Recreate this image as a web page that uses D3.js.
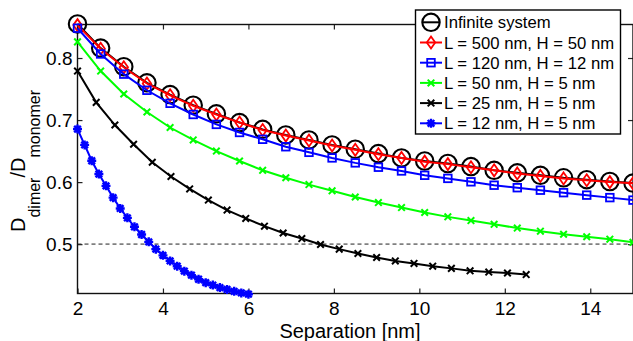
<!DOCTYPE html>
<html>
<head>
<meta charset="utf-8">
<script src="https://cdn.jsdelivr.net/npm/d3@7"></script>
<style>
  body { margin: 0; background: #fff; }
  svg { display: block; font-family: 'Liberation Sans', Arial, sans-serif; }
</style>
</head>
<body>
<svg id="chart"></svg>
<script>
// separations [nm]
const sepLong = [2, 2.542, 3.083, 3.625, 4.167, 4.708, 5.25, 5.792, 6.333, 6.875, 7.417, 7.958,
  8.5, 9.042, 9.583, 10.125, 10.667, 11.208, 11.75, 12.292, 12.833, 13.375, 13.917, 14.458, 15];
const sepMid = [2, 2.4375, 2.875, 3.3125, 3.75, 4.1875, 4.625, 5.0625, 5.5, 5.9375, 6.375, 6.8125,
  7.25, 7.6875, 8.125, 8.5625, 9, 9.4375, 9.875, 10.3125, 10.75, 11.1875, 11.625, 12.0625, 12.5];
const sepShort = [2, 2.167, 2.333, 2.5, 2.667, 2.833, 3, 3.167, 3.333, 3.5, 3.667, 3.833,
  4, 4.167, 4.333, 4.5, 4.667, 4.833, 5, 5.167, 5.333, 5.5, 5.667, 5.833, 6];

// D_dimer / D_monomer
const infinite = [0.855, 0.816, 0.786, 0.760, 0.741, 0.724, 0.710, 0.696, 0.685, 0.676, 0.668, 0.660,
  0.653, 0.646, 0.639, 0.634, 0.630, 0.625, 0.619, 0.615, 0.611, 0.607, 0.604, 0.601, 0.5985];
const l500 = [0.853, 0.815, 0.785, 0.759, 0.740, 0.723, 0.709, 0.696, 0.684, 0.675, 0.667, 0.659,
  0.652, 0.645, 0.639, 0.633, 0.629, 0.624, 0.619, 0.614, 0.610, 0.606, 0.603, 0.600, 0.598];
const l120 = [0.848, 0.8065, 0.774, 0.748, 0.727, 0.709, 0.693, 0.680, 0.669, 0.657, 0.648, 0.639,
  0.631, 0.624, 0.618, 0.611, 0.606, 0.6005, 0.595, 0.591, 0.587, 0.583, 0.579, 0.575, 0.571];
const l50 = [0.826, 0.779, 0.742, 0.713, 0.688, 0.668, 0.650, 0.634, 0.619, 0.607, 0.596, 0.586,
  0.576, 0.567, 0.559, 0.551, 0.544, 0.538, 0.532, 0.526, 0.521, 0.516, 0.512, 0.508, 0.503];
const l25 = [0.779, 0.7285, 0.692, 0.661, 0.632, 0.609, 0.589, 0.571, 0.555, 0.5415, 0.529, 0.518,
  0.509, 0.4995, 0.492, 0.485, 0.4785, 0.473, 0.469, 0.4645, 0.461, 0.457, 0.455, 0.4535, 0.451];
const l12 = [0.6855, 0.660, 0.6344, 0.613, 0.594, 0.575, 0.5576, 0.5424, 0.528, 0.5156, 0.5037, 0.492,
  0.482, 0.473, 0.4645, 0.4565, 0.450, 0.4435, 0.438, 0.434, 0.430, 0.427, 0.424, 0.4215, 0.4194];

const xTicks = [2, 4, 6, 8, 10, 12, 14];
const yTicks = [0.5, 0.6, 0.7, 0.8];
const threshold = 0.5;

const series = [
  { name: 'Infinite system', x: sepLong, y: infinite, color: '#000', marker: 'circle' },
  { name: 'L = 500 nm, H = 50 nm', x: sepLong, y: l500, color: '#ff0000', marker: 'diamond' },
  { name: 'L = 120 nm, H = 12 nm', x: sepLong, y: l120, color: '#0000ff', marker: 'square' },
  { name: 'L = 50 nm, H = 5 nm', x: sepLong, y: l50, color: '#00ff00', marker: 'x' },
  { name: 'L = 25 nm, H = 5 nm', x: sepMid, y: l25, color: '#000', marker: 'x' },
  { name: 'L = 12 nm, H = 5 nm', x: sepShort, y: l12, color: '#0000ff', marker: 'star' },
];

const svgWidth = 633;
const svgHeight = 341;
const margin = { top: 24.5, right: 0, bottom: 47.5, left: 77.5 };
const width = svgWidth - margin.left - margin.right;
const height = svgHeight - margin.top - margin.bottom;

const svg = d3.select('#chart')
  .attr('width', svgWidth)
  .attr('height', svgHeight);

const g = svg.append('g').attr('transform', `translate(${margin.left},${margin.top})`);

const x = d3.scaleLinear().domain([2, 15]).range([0, width]);
const y = d3.scaleLinear().domain([0.4205, 0.854]).range([height, 0]);

// dashed 0.5 reference
g.append('line')
  .attr('x1', 0).attr('x2', width)
  .attr('y1', y(threshold)).attr('y2', y(threshold))
  .attr('stroke', '#808080')
  .attr('stroke-width', 1.6)
  .attr('stroke-dasharray', '4,3');

// axes (MATLAB style, inward ticks)
const axisStyle = sel => {
  sel.selectAll('.domain').remove();
  sel.selectAll('.tick line').attr('stroke', '#222').attr('stroke-width', 1.2);
  sel.selectAll('text').attr('font-size', 19).attr('fill', '#000')
    .attr('font-family', "'Liberation Sans', Arial, sans-serif");
};

g.append('g')
  .attr('transform', `translate(0,${height})`)
  .call(d3.axisBottom(x).tickValues(xTicks).tickSizeInner(-5).tickSizeOuter(0).tickPadding(8).tickFormat(d3.format('d')))
  .call(axisStyle);

g.append('g')
  .call(d3.axisTop(x).tickValues(xTicks).tickSizeInner(-5).tickSizeOuter(0).tickFormat(''))
  .call(axisStyle);

g.append('g')
  .call(d3.axisLeft(y).tickValues(yTicks).tickSizeInner(-5).tickSizeOuter(0).tickPadding(5).tickFormat(d3.format('.1f')))
  .call(axisStyle);

g.append('g')
  .attr('transform', `translate(${width},0)`)
  .call(d3.axisRight(y).tickValues(yTicks).tickSizeInner(-5).tickSizeOuter(0).tickFormat(''))
  .call(axisStyle);

g.append('rect')
  .attr('width', width).attr('height', height)
  .attr('fill', 'none')
  .attr('stroke', '#111')
  .attr('stroke-width', 1.4);

// marker drawing
function drawMarker(sel, type, color) {
  if (type === 'circle') {
    sel.append('circle').attr('r', 8.7).attr('fill', 'none').attr('stroke', color).attr('stroke-width', 2.1);
  } else if (type === 'diamond') {
    sel.append('path').attr('d', 'M0,-6L4.2,0L0,6L-4.2,0Z')
      .attr('fill', 'none').attr('stroke', color).attr('stroke-width', 1.8);
  } else if (type === 'square') {
    sel.append('rect').attr('x', -3.8).attr('y', -3.8).attr('width', 7.6).attr('height', 7.6)
      .attr('fill', 'none').attr('stroke', color).attr('stroke-width', 1.8);
  } else if (type === 'x') {
    sel.append('path').attr('d', 'M-3.3,-3.3L3.3,3.3M-3.3,3.3L3.3,-3.3')
      .attr('stroke', color).attr('stroke-width', 2);
  } else if (type === 'star') {
    sel.append('path').attr('d', 'M-4.5,0L4.5,0M0,-4.5L0,4.5M-3.3,-3.3L3.3,3.3M-3.3,3.3L3.3,-3.3')
      .attr('stroke', color).attr('stroke-width', 2.4);
  }
}

const line = d3.line().x(d => x(d[0])).y(d => y(d[1]));

series.forEach(s => {
  const pts = s.x.map((v, i) => [v, s.y[i]]);
  const sg = g.append('g');
  sg.append('path')
    .datum(pts)
    .attr('d', line)
    .attr('fill', 'none')
    .attr('stroke', s.color)
    .attr('stroke-width', 2);
  sg.selectAll('g.m')
    .data(pts)
    .enter()
    .append('g')
    .attr('class', 'm')
    .attr('transform', d => `translate(${x(d[0])},${y(d[1])})`)
    .each(function () { drawMarker(d3.select(this), s.marker, s.color); });
});

// axis labels
svg.append('text')
  .attr('x', 350)
  .attr('y', 338)
  .attr('text-anchor', 'middle')
  .attr('font-size', 20)
  .text('Separation [nm]');

const yl = svg.append('text')
  .attr('transform', 'translate(25,161) rotate(-90)')
  .attr('text-anchor', 'middle')
  .attr('font-size', 20);
yl.append('tspan').text('D');
yl.append('tspan').attr('font-size', 16).attr('dy', 15).text('dimer');
yl.append('tspan').attr('dy', -15).text('/D');
yl.append('tspan').attr('font-size', 16).attr('dy', 15).text('monomer');

// legend
const legend = svg.append('g').attr('transform', 'translate(415.5,10)');
legend.append('rect')
  .attr('width', 205).attr('height', 124)
  .attr('fill', '#fff')
  .attr('stroke', '#000')
  .attr('stroke-width', 1.4);

const rows = legend.selectAll('g.row')
  .data(series)
  .enter()
  .append('g')
  .attr('class', 'row')
  .attr('transform', (d, i) => `translate(0,${12.3 + 20.2 * i})`);

rows.append('line')
  .attr('x1', d => (d.marker === 'circle' ? 7 : 4.5))
  .attr('x2', d => (d.marker === 'circle' ? 24 : 26.5))
  .attr('stroke', d => d.color)
  .attr('stroke-width', 2);

rows.append('g')
  .attr('transform', 'translate(15.5,0)')
  .each(function (d) { drawMarker(d3.select(this), d.marker, d.color); });

rows.append('text')
  .attr('x', 28.5)
  .attr('dy', '0.36em')
  .attr('font-size', 16.7)
  .text(d => d.name);
</script>
</body>
</html>
